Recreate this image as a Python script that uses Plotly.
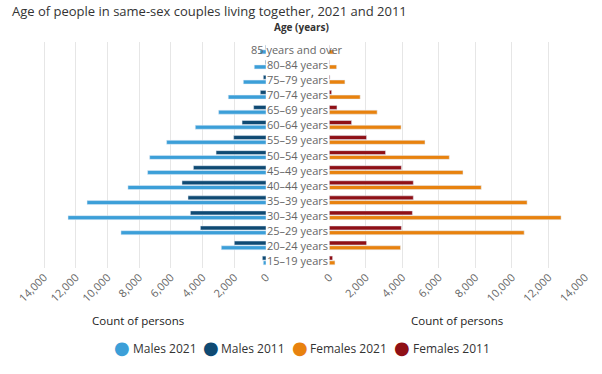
import plotly.graph_objects as go

# Data (bottom to top)
ages = ["15–19 years", "20–24 years", "25–29 years", "30–34 years", "35–39 years",
        "40–44 years", "45–49 years", "50–54 years", "55–59 years", "60–64 years",
        "65–69 years", "70–74 years", "75–79 years", "80–84 years", "85 years and over"]
males_2021 = [170, 2820, 9150, 12490, 11290, 8710, 7470, 7340, 6270, 4460, 2990, 2380, 1430, 740, 380]
males_2011 = [230, 2000, 4140, 4770, 4920, 5300, 4580, 3150, 2040, 1510, 780, 360, 170, 40, 30]
females_2021 = [310, 3900, 10670, 12690, 10830, 8320, 7320, 6570, 5240, 3930, 2620, 1690, 855, 400, 237]
females_2011 = [180, 2040, 3950, 4550, 4600, 4600, 3950, 3080, 2040, 1220, 420, 127, 40, 20, 20]
tick_vals = [0, 2000, 4000, 6000, 8000, 10000, 12000, 14000]
tick_text = ["0", "2,000", "4,000", "6,000", "8,000", "10,000", "12,000", "14,000"]
legend_names = ["Males 2021", "Males 2011", "Females 2021", "Females 2011"]

C_M21 = "#3c9fd8"
C_M11 = "#0f4a73"
C_F21 = "#e8820e"
C_F11 = "#8f1016"
legend_colors = [C_M21, C_M11, C_F21, C_F11]
legend_px = [122, 210.5, 299.5, 402]  # legend bullet centres (layout, px)
FONT = "Open Sans"

W, H = 602, 374
T, B = 42, 106
PH = H - T - B


def py(px):
    """pixel y (from top) to paper y"""
    return (H - B - px) / PH


fig = go.Figure()

fig.add_trace(go.Bar(y=ages, x=males_2021, orientation="h", marker_color=C_M21,
                     xaxis="x", yaxis="y", name="Males 2021"))
fig.add_trace(go.Bar(y=ages, x=males_2011, orientation="h", marker_color=C_M11,
                     xaxis="x", yaxis="y", name="Males 2011"))
fig.add_trace(go.Bar(y=ages, x=females_2021, orientation="h", marker_color=C_F21,
                     xaxis="x2", yaxis="y2", name="Females 2021"))
fig.add_trace(go.Bar(y=ages, x=females_2011, orientation="h", marker_color=C_F11,
                     xaxis="x2", yaxis="y2", name="Females 2011"))

axis_common = dict(tickvals=tick_vals, ticktext=tick_text, tickangle=-45,
                   showgrid=True, gridcolor="#e6e6e6", gridwidth=1, zeroline=False,
                   showline=False, ticks="", automargin=False,
                   tickfont=dict(family=FONT, size=11, color="#666666"))

fig.update_layout(
    width=W, height=H,
    margin=dict(l=0, r=0, t=T, b=B, autoexpand=False),
    paper_bgcolor="white", plot_bgcolor="white",
    barmode="group", bargap=0.37, bargroupgap=0.16,
    showlegend=False,
    font=dict(family=FONT, color="#333333"),
    xaxis=dict(domain=[10 / W, 266 / W], range=[16150, 0], anchor="y", **axis_common),
    xaxis2=dict(domain=[329.3 / W, 585 / W], range=[0, 14000], anchor="y2", **axis_common),
    yaxis=dict(domain=[0, 1], anchor="x", showticklabels=False, showgrid=False,
               zeroline=False, type="category", categoryorder="array", categoryarray=ages,
               range=[-0.5, 14.5], automargin=False),
    yaxis2=dict(domain=[0, 1], anchor="x2", matches="y", showticklabels=False,
                showgrid=False, zeroline=False, type="category", automargin=False),
    title=dict(text="Age of people in same-sex couples living together, 2021 and 2011",
               x=12 / W, xanchor="left", xref="container", yref="container",
               y=1 - 11 / H, yanchor="middle", pad=dict(t=0, b=0, l=0, r=0),
               font=dict(family=FONT, size=13, color="#333333")),
)

annotations = [
    dict(text="<b>Age (years)</b>", x=301 / W, xref="paper", y=py(27), yref="paper",
         showarrow=False, xanchor="center", yanchor="middle",
         font=dict(family=FONT, size=10, color="#333333")),
]
for a in ages:
    annotations.append(dict(text=a, x=297 / W, xref="paper", y=a, yref="y",
                            showarrow=False, xanchor="center", yanchor="middle",
                            font=dict(family=FONT, size=11, color="#666666")))
for xc in [138, 457]:
    annotations.append(dict(text="Count of persons", x=xc / W, xref="paper",
                            y=py(320.5), yref="paper", showarrow=False,
                            xanchor="center", yanchor="middle",
                            font=dict(family=FONT, size=11.5, color="#222222")))
# legend row
for name, col, cx in zip(legend_names, legend_colors, legend_px):
    annotations.append(dict(text="●", x=cx / W, xref="paper", y=py(347.5), yref="paper",
                            showarrow=False, xanchor="center", yanchor="middle",
                            font=dict(family="DejaVu Sans", size=18, color=col)))
    annotations.append(dict(text=name, x=(cx + 8.5) / W, xref="paper", y=py(348), yref="paper",
                            showarrow=False, xanchor="left", yanchor="middle",
                            font=dict(family=FONT, size=12, color="#333333")))
fig.update_layout(annotations=annotations)

fig.write_html("out.html", config={"displayModeBar": False},
               post_script="document.body.style.margin='0';document.body.style.padding='0';")
